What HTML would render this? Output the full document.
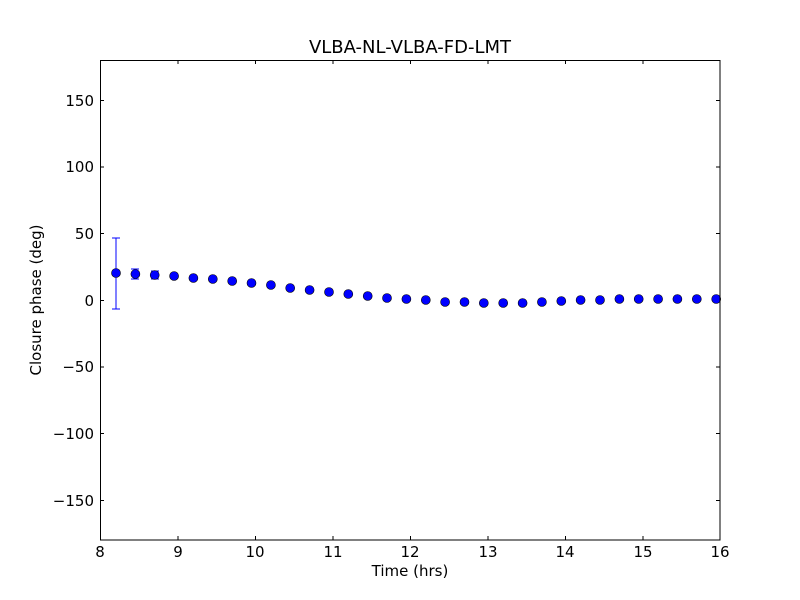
<!DOCTYPE html>
<html><head><meta charset="utf-8"><style>body{margin:0;background:#fff}svg{display:block}text{font-family:"DejaVu Sans","Liberation Sans",sans-serif;}</style></head>
<body>
<svg width="800" height="600" xmlns="http://www.w3.org/2000/svg">
<rect width="800" height="600" fill="#fff"/>
<text x="410" y="53" font-size="18" text-anchor="middle">VLBA-NL-VLBA-FD-LMT</text>
<g stroke="#000" stroke-width="1">
<path d="M100.5 540v-4M178 540v-4M255.5 540v-4M333 540v-4M410.5 540v-4M488 540v-4M565.5 540v-4M643 540v-4M720 540v-4
M100.5 60v4M178 60v4M255.5 60v4M333 60v4M410.5 60v4M488 60v4M565.5 60v4M643 60v4M720 60v4
M100 500.5h4M100 433.5h4M100 367h4M100 300.5h4M100 233.5h4M100 167h4M100 100.5h4
M720 500.5h-4M720 433.5h-4M720 367h-4M720 300.5h-4M720 233.5h-4M720 167h-4M720 100.5h-4"/>
</g>
<g font-size="15" text-anchor="middle">
<text x="100" y="557">8</text><text x="178" y="557">9</text><text x="255" y="557">10</text><text x="333" y="557">11</text><text x="410" y="557">12</text><text x="488" y="557">13</text><text x="565" y="557">14</text><text x="643" y="557">15</text><text x="720" y="557">16</text>
</g>
<g font-size="15" text-anchor="end">
<text x="94" y="506">−150</text><text x="94" y="439">−100</text><text x="94" y="372">−50</text><text x="94" y="306">0</text><text x="94" y="239">50</text><text x="94" y="172">100</text><text x="94" y="106">150</text>
</g>
<text x="410" y="576" font-size="15" text-anchor="middle">Time (hrs)</text>
<text transform="translate(41,300) rotate(-90)" font-size="15" text-anchor="middle">Closure phase (deg)</text>
<g stroke="#0000ff" stroke-width="1">
<path d="M116 238v71M112 238h8M112 309h8M135 269v10M131 269h8M131 279h8M155 271v8M151 271h8M151 279h8"/>
</g>
<g fill="#0000ff" stroke="#000" stroke-width="0.6">
<circle cx="116" cy="273" r="4.5"/><circle cx="135.4" cy="274" r="4.5"/><circle cx="154.7" cy="275" r="4.5"/><circle cx="174.1" cy="276" r="4.5"/>
<circle cx="193.4" cy="278" r="4.5"/><circle cx="212.8" cy="279" r="4.5"/><circle cx="232.2" cy="281" r="4.5"/><circle cx="251.5" cy="283" r="4.5"/>
<circle cx="270.9" cy="285" r="4.5"/><circle cx="290.2" cy="288" r="4.5"/><circle cx="309.6" cy="290" r="4.5"/><circle cx="329" cy="292" r="4.5"/>
<circle cx="348.3" cy="294" r="4.5"/><circle cx="367.7" cy="296" r="4.5"/><circle cx="387" cy="298" r="4.5"/><circle cx="406.4" cy="299" r="4.5"/>
<circle cx="425.8" cy="300" r="4.5"/><circle cx="445.1" cy="302" r="4.5"/><circle cx="464.5" cy="302" r="4.5"/><circle cx="483.8" cy="303" r="4.5"/>
<circle cx="503.2" cy="303" r="4.5"/><circle cx="522.6" cy="303" r="4.5"/><circle cx="541.9" cy="302" r="4.5"/><circle cx="561.3" cy="301" r="4.5"/>
<circle cx="580.6" cy="300" r="4.5"/><circle cx="600" cy="300" r="4.5"/><circle cx="619.4" cy="299" r="4.5"/><circle cx="638.7" cy="299" r="4.5"/>
<circle cx="658.1" cy="299" r="4.5"/><circle cx="677.4" cy="299" r="4.5"/><circle cx="696.8" cy="299" r="4.5"/><circle cx="716.2" cy="299" r="4.5"/>
</g>
<rect x="100.5" y="60.5" width="619.5" height="479.5" fill="none" stroke="#000"/>
</svg>
</body></html>
